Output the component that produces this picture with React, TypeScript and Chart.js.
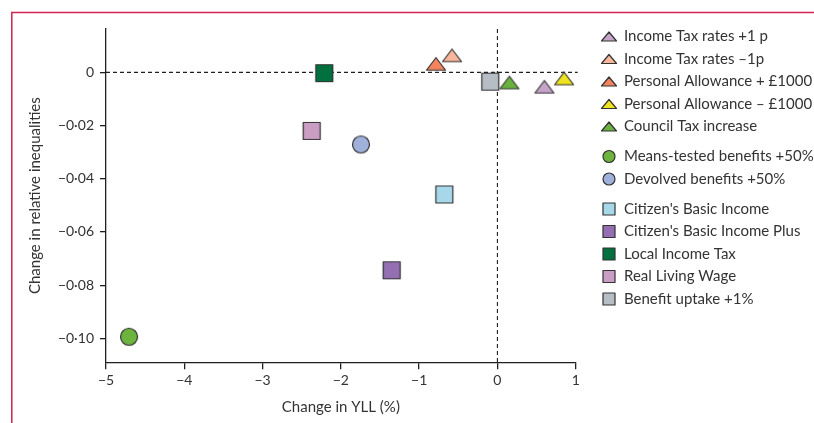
import React, { useEffect, useRef } from 'react';
import { Chart, registerables } from 'chart.js';

Chart.register(...registerables);

const seriesNames = [
  'Income Tax rates +1 p',
  'Income Tax rates \u20131p',
  'Personal Allowance + \u00a31000',
  'Personal Allowance \u2013 \u00a31000',
  'Council Tax increase',
  'Means-tested benefits +50%',
  'Devolved benefits +50%',
  "Citizen's Basic Income",
  "Citizen's Basic Income Plus",
  'Local Income Tax',
  'Real Living Wage',
  'Benefit uptake +1%',
];
const seriesShapes = [
  'triangle', 'triangle', 'triangle', 'triangle', 'triangle',
  'circle', 'circle',
  'square', 'square', 'square', 'square', 'square',
];
const seriesColors = [
  '#c6a3c9', '#f8b69c', '#f3845f', '#eee31f', '#6ab23f',
  '#6db43e', '#9fb1da',
  '#a7d8ea', '#9470b2', '#00703e', '#c99dc4', '#b6bdc5',
];
const legendGroups = [0, 0, 0, 0, 0, 1, 1, 2, 2, 2, 2, 2];
// Change in YLL (%)
const xValues = [0.6, -0.58, -0.785, 0.852, 0.153, -4.706, -1.743, -0.678, -1.351, -2.212, -2.373, -0.091];
// Change in relative inequalities
const yValues = [-0.0054, 0.0064, 0.0032, -0.0023, -0.0038, -0.0994, -0.0271, -0.0459, -0.0744, -0.0003, -0.022, -0.0035];

const xTicks = [-5, -4, -3, -2, -1, 0, 1];
const yTicks = [0, -0.02, -0.04, -0.06, -0.08, -0.1];

const FONT = 'Lato, "Open Sans", sans-serif';
const TEXT = '#333333';
const AXIS = '#231f20';
const STROKE = '#333333';

function drawShape(ctx: CanvasRenderingContext2D, shape: string, cx: number, cy: number, w: number, h: number, fill: string) {
  ctx.save();
  ctx.beginPath();
  if (shape === 'triangle') {
    ctx.moveTo(cx, cy - h / 2);
    ctx.lineTo(cx + w / 2, cy + h / 2);
    ctx.lineTo(cx - w / 2, cy + h / 2);
    ctx.closePath();
  } else if (shape === 'circle') {
    ctx.arc(cx, cy, w / 2, 0, Math.PI * 2);
  } else {
    ctx.rect(cx - w / 2, cy - h / 2, w, h);
  }
  ctx.fillStyle = fill;
  ctx.fill();
  ctx.lineWidth = 1.2;
  ctx.strokeStyle = STROKE;
  ctx.lineJoin = 'round';
  ctx.stroke();
  ctx.restore();
}

function markerDims(shape: string, legend: boolean): [number, number] {
  if (shape === 'triangle') return legend ? [15, 9] : [19, 12.5];
  return legend ? [12, 12] : [17, 17];
}

function makePointImage(shape: string, fill: string): HTMLCanvasElement {
  const [w, h] = markerDims(shape, false);
  const c = document.createElement('canvas');
  c.width = 24;
  c.height = 24;
  const ctx = c.getContext('2d')!;
  drawShape(ctx, shape, 12, 12, w, h, fill);
  return c;
}

const zeroLinesPlugin = {
  id: 'zeroLines',
  beforeDatasetsDraw(chart: any) {
    const { ctx, chartArea, scales } = chart;
    const x0 = scales.x.getPixelForValue(0);
    const y0 = scales.y.getPixelForValue(0);
    ctx.save();
    ctx.strokeStyle = AXIS;
    ctx.lineWidth = 1.1;
    ctx.setLineDash([4, 3]);
    ctx.beginPath();
    ctx.moveTo(chartArea.left, y0);
    ctx.lineTo(chartArea.right + 2, y0);
    ctx.moveTo(x0, chartArea.top);
    ctx.lineTo(x0, chartArea.bottom);
    ctx.stroke();
    ctx.restore();
  },
};

const framePlugin = {
  id: 'frame',
  afterDraw(chart: any, _args: any, opts: any) {
    const { ctx } = chart;
    ctx.save();
    ctx.strokeStyle = opts.color;
    ctx.lineWidth = 1.5;
    ctx.beginPath();
    ctx.moveTo(opts.left, chart.height);
    ctx.lineTo(opts.left, opts.top);
    ctx.lineTo(chart.width, opts.top);
    ctx.stroke();
    ctx.restore();
  },
};

const groupLegendPlugin = {
  id: 'groupLegend',
  afterDraw(chart: any, _args: any, opts: any) {
    const { ctx } = chart;
    ctx.save();
    ctx.font = opts.font;
    ctx.fillStyle = TEXT;
    ctx.textBaseline = 'middle';
    ctx.textAlign = 'left';
    let y = opts.y0;
    chart.data.datasets.forEach((ds: any, i: number) => {
      if (i > 0) {
        y += opts.step;
        if (ds.group !== chart.data.datasets[i - 1].group) y += opts.groupGap;
      }
      const [w, h] = markerDims(ds.shape, true);
      drawShape(ctx, ds.shape, opts.markerX, y, w, h, ds.backgroundColor);
      ctx.fillStyle = TEXT;
      ctx.fillText(ds.label, opts.textX, y + opts.textDy);
    });
    ctx.restore();
  },
};

function fmtY(v: number): string {
  if (Math.abs(v) < 1e-9) return '0';
  return (v < 0 ? '\u2212' : '') + Math.abs(v).toFixed(2).replace('.', '\u00b7');
}
function fmtX(v: number): string {
  if (Math.abs(v) < 1e-9) return '0';
  return (v < 0 ? '\u2212' : '') + String(Math.abs(v));
}

export default function App() {
  const ref = useRef<HTMLCanvasElement>(null);
  useEffect(() => {
    if (!ref.current) return;
    const datasets = seriesNames.map((name, i) => ({
      label: name,
      data: [{ x: xValues[i], y: yValues[i] }],
      backgroundColor: seriesColors[i],
      borderColor: STROKE,
      pointStyle: makePointImage(seriesShapes[i], seriesColors[i]),
      shape: seriesShapes[i],
      group: legendGroups[i],
      order: i === 2 ? 0 : 1,
    }));
    const chart = new Chart(ref.current, {
      type: 'scatter',
      data: { datasets } as any,
      plugins: [zeroLinesPlugin, framePlugin, groupLegendPlugin],
      options: {
        animation: false,
        responsive: false,
        devicePixelRatio: 1,
        layout: { padding: { left: 0, top: 29, right: 238.3, bottom: 0 } },
        plugins: {
          legend: { display: false },
          tooltip: { enabled: false },
          frame: { color: '#cf2451', left: 11.8, top: 12.6 },
          groupLegend: {
            font: `15px ${FONT}`,
            markerX: 609,
            textX: 624,
            y0: 36.5,
            step: 22.5,
            groupGap: 7.5,
            textDy: 0,
          },
        } as any,
        scales: {
          x: {
            type: 'linear',
            min: -5,
            max: 1,
            afterFit: (s: any) => { s.height = 423 - 362.3; },
            afterBuildTicks: (s: any) => { s.ticks = xTicks.map((v) => ({ value: v })); },
            grid: { display: true, drawOnChartArea: false, drawTicks: true, tickLength: 7, color: AXIS, lineWidth: 1.3 },
            border: { display: true, color: AXIS, width: 1.3 },
            ticks: { color: TEXT, font: { family: FONT, size: 14 }, padding: 3, maxRotation: 0, callback: (v: any) => fmtX(Number(v)) },
            title: { display: true, text: 'Change in YLL (%)', color: TEXT, font: { family: FONT, size: 15 }, padding: { top: 0, bottom: 7 } },
          },
          y: {
            type: 'linear',
            min: -0.109,
            max: 0.0163,
            afterFit: (s: any) => { s.width = 106; },
            afterBuildTicks: (s: any) => { s.ticks = yTicks.map((v) => ({ value: v })); },
            grid: { display: true, drawOnChartArea: false, drawTicks: true, tickLength: 6, color: AXIS, lineWidth: 1.3 },
            border: { display: true, color: AXIS, width: 1.3 },
            ticks: { color: TEXT, font: { family: FONT, size: 14 }, padding: 6, callback: (v: any) => fmtY(Number(v)) },
            title: { display: true, text: 'Change in relative inequalities', color: TEXT, font: { family: FONT, size: 15 }, padding: { top: 26, bottom: 0 } },
          },
        },
      } as any,
    });
    return () => chart.destroy();
  }, []);
  return (
    <div style={{ position: 'fixed', left: 0, top: 0, width: 814, height: 423, background: '#fff' }}>
      <canvas ref={ref} width={814} height={423} style={{ display: 'block', width: 814, height: 423 }} />
    </div>
  );
}
